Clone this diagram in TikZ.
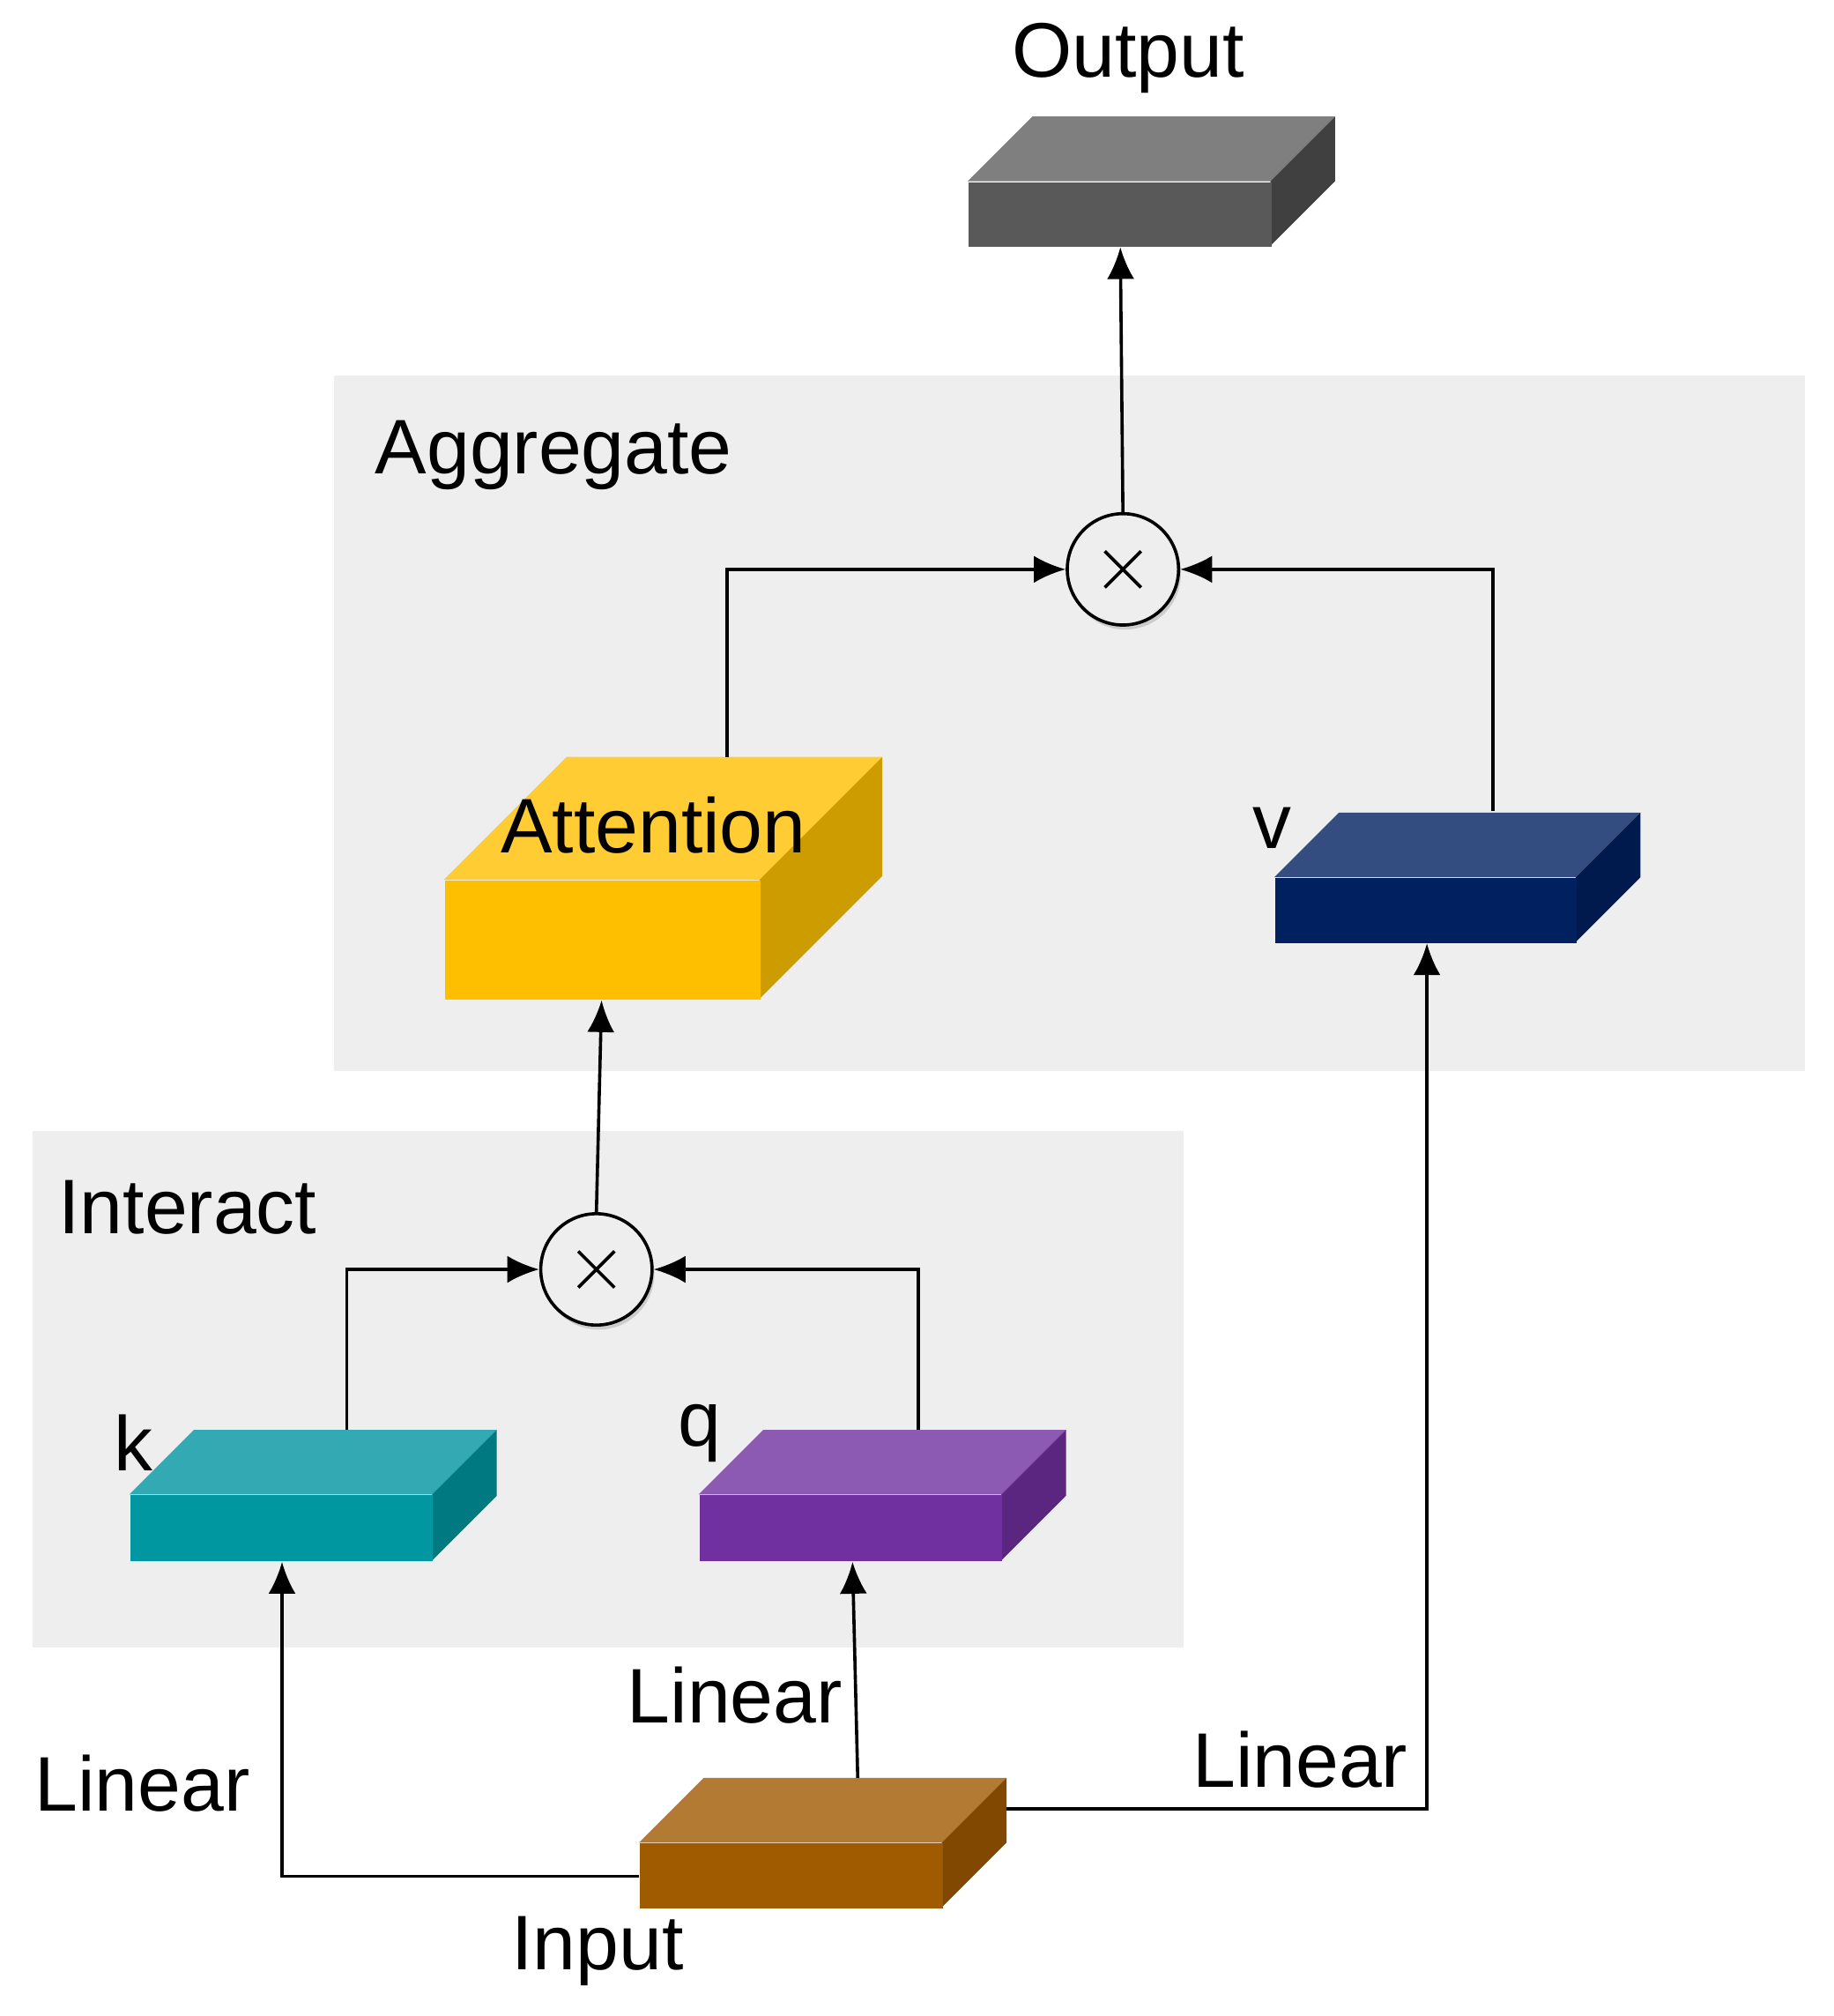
\documentclass[tikz,border=0pt]{standalone}
\usepackage{fontspec}
\setmainfont{Liberation Sans}
\usetikzlibrary{arrows.meta,shadows,calc}
\definecolor{panel}{HTML}{EEEEEE}
\tikzset{
  lbl/.style={font=\fontsize{17}{20}\selectfont, inner sep=0pt},
  conn/.style={line width=0.7pt, -{Latex[length=7pt,width=6pt]}},
  mult/.style={circle, draw, line width=0.7pt, fill=panel, minimum size=0.86cm, inner sep=0pt,
     drop shadow={shadow xshift=0.5pt,shadow yshift=-1pt,opacity=0.3}},
}
% name, x, y (front top-left), w, h, d, front, top, side
\newcommand\mybox[9]{%
  \fill[fill=#8] (#2,#3) -- ++(#6,-#6) -- ++(#4,0) -- ++(-#6,#6) -- cycle;
  \fill[fill=#9] (#2+#4,#3) -- ++(#6,-#6) -- ++(0,#5) -- ++(-#6,#6) -- cycle;
  \node[fill=#7, inner sep=0pt, minimum width=#4*0.01cm, minimum height=#5*0.01cm, anchor=north west] (#1) at (#2,#3) {};
}
\definecolor{clof}{HTML}{595959}\definecolor{clot}{HTML}{7F7F7F}\definecolor{clos}{HTML}{404040}
\definecolor{claf}{HTML}{FDBF00}\definecolor{clat}{HTML}{FFCC33}\definecolor{clas}{HTML}{CC9C00}
\definecolor{clvf}{HTML}{002060}\definecolor{clvt}{HTML}{334D80}\definecolor{clvs}{HTML}{001A4D}
\definecolor{clkf}{HTML}{0097A0}\definecolor{clkt}{HTML}{33AAB3}\definecolor{clks}{HTML}{007A80}
\definecolor{clqf}{HTML}{7030A0}\definecolor{clqt}{HTML}{8C59B3}\definecolor{clqs}{HTML}{5A2680}
\definecolor{clif}{HTML}{A05A00}\definecolor{clit}{HTML}{B37A33}\definecolor{clis}{HTML}{804800}
\begin{document}
\begin{tikzpicture}[x=0.01cm,y=-0.01cm]
\useasboundingbox (0,0) rectangle (1417,1558);
% panels
\fill[panel] (258,290) rectangle (1395,828);
\fill[panel] (25,874) rectangle (915,1273);
\node[lbl] (agg) at (428,352) {Aggregate};
\node[lbl] (int) at (145,933) {Interact};
% boxes
\mybox{out}{748}{140}{234}{50}{50}{clof}{clot}{clos}
\mybox{att}{343}{680}{244}{92}{95}{claf}{clat}{clas}
\mybox{v}{985}{678}{233}{50}{50}{clvf}{clvt}{clvs}
\mybox{k}{100}{1155}{234}{51}{50}{clkf}{clkt}{clks}
\mybox{q}{540}{1155}{234}{51}{50}{clqf}{clqt}{clqs}
\mybox{in}{494}{1424}{234}{50}{50}{clif}{clit}{clis}
% labels
\node[lbl] (outl) at (872,45) {Output};
\node[lbl] (attl) at (505,638) {Attention};
\node[lbl] (vl) at (983,640) {v};
\node[lbl] (kl) at (103,1115) {k};
\node[lbl] (ql) at (541,1108) {q};
\node[lbl] (inl) at (462,1508) {Input};
\node[lbl] (lin1) at (110,1378) {Linear};
\node[lbl] (lin2) at (568,1310) {Linear};
\node[lbl] (lin3) at (1005,1360) {Linear};
% multipliers
\node[mult] (m1) at (868,440) {};
\node[mult] (m2) at (461,981) {};
\foreach \m in {m1,m2}{
  \draw[line width=0.7pt] ($(\m)+(-14,-14)$) -- ($(\m)+(14,14)$) ($(\m)+(-14,14)$) -- ($(\m)+(14,-14)$);
}
% attach coordinates
\coordinate (inL) at (494,1450);
\coordinate (inT) at (663,1374);
\coordinate (inR) at (778,1398);
\coordinate (kB) at (218,1207);
\coordinate (qB) at (659,1207);
\coordinate (vB) at (1103,729);
\coordinate (kT) at (268,1105);
\coordinate (qT) at (710,1105);
\coordinate (aB) at (465,773);
\coordinate (aT) at (562,585);
\coordinate (vT) at (1154,627);
\coordinate (oB) at (866,191);
% connectors
\draw[conn] (inL) -| (kB);
\draw[conn] (inT) -- (qB);
\draw[conn] (inR) -| (vB);
\draw[conn] (kT) |- (m2.west);
\draw[conn] (qT) |- (m2.east);
\draw[conn] (m2.north) -- (aB);
\draw[conn] (aT) |- (m1.west);
\draw[conn] (vT) |- (m1.east);
\draw[conn] (m1.north) -- (oB);
\end{tikzpicture}
\end{document}
